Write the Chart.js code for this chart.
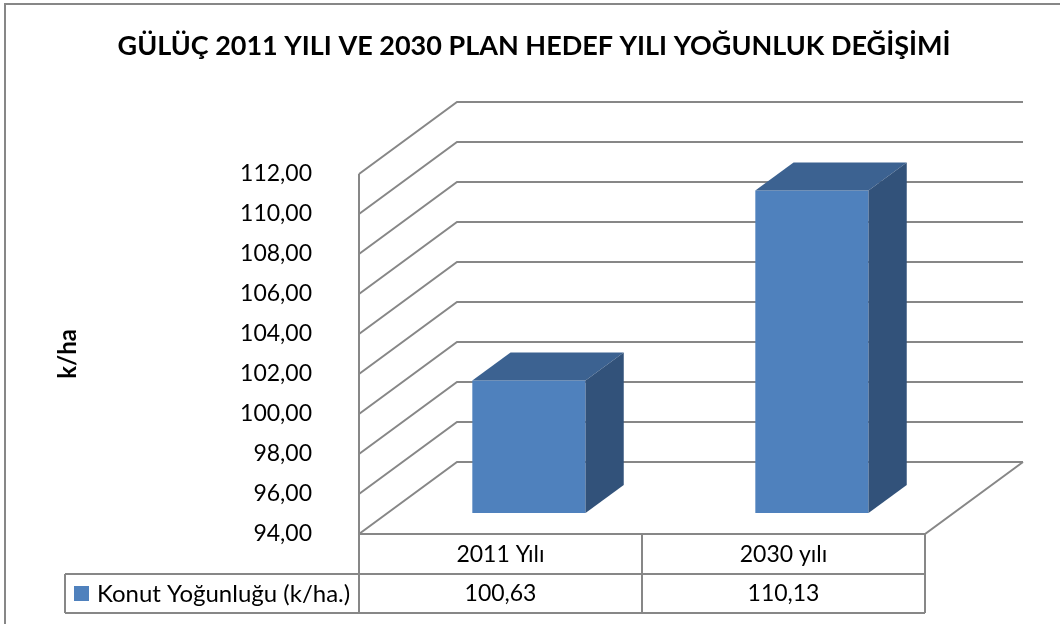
<!DOCTYPE html>
<html>
<head>
<meta charset="utf-8">
<title>Gülüç yoğunluk değişimi</title>
<script src="https://cdn.jsdelivr.net/npm/chart.js@4/dist/chart.umd.min.js"></script>
<style>
  html, body { margin: 0; padding: 0; background: #fff; }
  #wrap { width: 1060px; height: 624px; position: relative; }
</style>
</head>
<body>
<div id="wrap"><canvas id="density-chart"></canvas></div>
<script>
// values shown in the chart and in its data table
const chartTitle = 'GÜLÜÇ 2011 YILI VE 2030 PLAN HEDEF YILI YOĞUNLUK DEĞİŞİMİ';
const categories = ['2011 Yılı', '2030 yılı'];
const seriesLabel = 'Konut Yoğunluğu (k/ha.)';
const densityValues = [100.63, 110.13];
const yAxisTitle = 'k/ha';
const yMin = 94;
const yMax = 112;
const yStep = 2;

const FONT = 'Lato, "Liberation Sans", sans-serif';
const LINE = '#878787';
const WALL_DX = 98;      // how far the back wall sits behind the front plane
const WALL_DY = -72;
const BAR_SHIFT = 0.29;  // bars stand a little way into the floor
const BAR_DEPTH = 0.39;
const BAR_FRONT = '#4F81BD';
const BAR_TOP = '#3C6291';
const BAR_SIDE = '#32527A';
const ROW_H = 40;

function fmt(v) {
    return v.toFixed(2).replace('.', ',');
}

// walls, floor, bar depth and the data table under the chart
const frame3d = {
    id: 'frame3d',
    beforeDraw(chart) {
        const { ctx, width } = chart;
        ctx.save();
        ctx.fillStyle = '#fff';
        ctx.fillRect(0, 0, width, chart.height);
        ctx.strokeStyle = LINE;
        ctx.lineWidth = 2;
        ctx.strokeRect(5, 4, width + 20, chart.height + 20);
        ctx.fillStyle = '#000';
        ctx.font = 'bold 27px ' + FONT;
        ctx.textAlign = 'center';
        ctx.textBaseline = 'middle';
        ctx.fillText(chartTitle, width / 2 + 4, 46);
        ctx.restore();
    },
    beforeDatasetsDraw(chart) {
        const { ctx, chartArea: a, scales: { y } } = chart;
        ctx.save();
        ctx.strokeStyle = LINE;
        ctx.lineWidth = 2;
        ctx.beginPath();
        for (let v = yMin; v <= yMax; v += yStep) {
            const py = Math.round(y.getPixelForValue(v));
            ctx.moveTo(a.left, py);
            ctx.lineTo(a.left + WALL_DX, py + WALL_DY);
            ctx.lineTo(a.right + WALL_DX, py + WALL_DY);
        }
        ctx.moveTo(a.left, Math.round(a.top));
        ctx.lineTo(a.left, a.bottom);
        ctx.lineTo(a.right, a.bottom);
        ctx.lineTo(a.right + WALL_DX, a.bottom + WALL_DY);
        ctx.stroke();
        ctx.restore();

        // front faces get drawn by the library, pushed back into the floor
        ctx.save();
        ctx.translate(WALL_DX * BAR_SHIFT, WALL_DY * BAR_SHIFT);
    },
    afterDatasetsDraw(chart) {
        const ctx = chart.ctx;
        ctx.restore();

        const ox = WALL_DX * BAR_SHIFT, oy = WALL_DY * BAR_SHIFT;
        const dx = WALL_DX * BAR_DEPTH, dy = WALL_DY * BAR_DEPTH;
        chart.getDatasetMeta(0).data.forEach(bar => {
            const l = bar.x - bar.width / 2 + ox;
            const r = bar.x + bar.width / 2 + ox;
            const t = bar.y + oy;
            const b = bar.base + oy;
            ctx.fillStyle = BAR_TOP;
            ctx.beginPath();
            ctx.moveTo(l, t);
            ctx.lineTo(r, t);
            ctx.lineTo(r + dx, t + dy);
            ctx.lineTo(l + dx, t + dy);
            ctx.closePath();
            ctx.fill();
            ctx.fillStyle = BAR_SIDE;
            ctx.beginPath();
            ctx.moveTo(r, t);
            ctx.lineTo(r + dx, t + dy);
            ctx.lineTo(r + dx, b + dy);
            ctx.lineTo(r, b);
            ctx.closePath();
            ctx.fill();
        });
    },
    afterDraw(chart) {
        const { ctx, chartArea: a, scales: { x } } = chart;
        const colW = (a.right - a.left) / categories.length;
        const top = a.bottom;
        const mid = top + ROW_H;
        const bot = mid + ROW_H - 1;
        const tableLeft = 65;

        ctx.save();
        ctx.strokeStyle = LINE;
        ctx.lineWidth = 2;
        ctx.beginPath();
        ctx.moveTo(tableLeft, mid); ctx.lineTo(a.right, mid);
        ctx.moveTo(tableLeft, bot); ctx.lineTo(a.right, bot);
        ctx.moveTo(tableLeft, mid); ctx.lineTo(tableLeft, bot);
        for (let i = 0; i <= categories.length; i++) {
            const cx = Math.round(a.left + i * colW);
            ctx.moveTo(cx, top); ctx.lineTo(cx, bot);
        }
        ctx.stroke();

        ctx.fillStyle = '#000';
        ctx.font = '23px ' + FONT;
        ctx.textAlign = 'center';
        ctx.textBaseline = 'middle';
        categories.forEach((c, i) => {
            const cx = x.getPixelForValue(i);
            ctx.fillText(c, cx, top + ROW_H / 2 + 1);
            ctx.fillText(fmt(densityValues[i]), cx, mid + ROW_H / 2);
        });

        // legend key in the first cell of the value row
        ctx.fillStyle = BAR_FRONT;
        ctx.fillRect(tableLeft + 9, mid + 12, 15, 15);
        ctx.fillStyle = '#000';
        ctx.textAlign = 'left';
        ctx.font = '24px ' + FONT;
        ctx.fillText(seriesLabel, tableLeft + 32, mid + ROW_H / 2);
        ctx.restore();
    }
};

new Chart(document.getElementById('density-chart'), {
    type: 'bar',
    data: {
        labels: categories,
        datasets: [{
            label: seriesLabel,
            data: densityValues,
            base: yMin,
            backgroundColor: BAR_FRONT,
            borderWidth: 0,
            barPercentage: 0.4,
            categoryPercentage: 1,
            clip: false
        }]
    },
    options: {
        responsive: true,
        maintainAspectRatio: false,
        animation: false,
        layout: {
            padding: { left: 0, right: 135, top: 174, bottom: 90 }
        },
        plugins: {
            legend: { display: false },
            title: { display: false },
            tooltip: { enabled: false }
        },
        scales: {
            x: {
                display: false
            },
            y: {
                min: yMin,
                max: yMax,
                grid: { display: false, drawTicks: false },
                border: { display: false },
                ticks: {
                    stepSize: yStep,
                    padding: 47,
                    color: '#000',
                    font: { family: FONT, size: 23 },
                    callback: v => fmt(v)
                },
                title: {
                    display: true,
                    text: yAxisTitle,
                    color: '#000',
                    font: { family: FONT, size: 24, weight: 'bold' },
                    padding: { top: 54, bottom: 0 }
                },
                afterFit(scale) {
                    scale.width = 359;
                }
            }
        }
    },
    plugins: [frame3d]
});
</script>
</body>
</html>
